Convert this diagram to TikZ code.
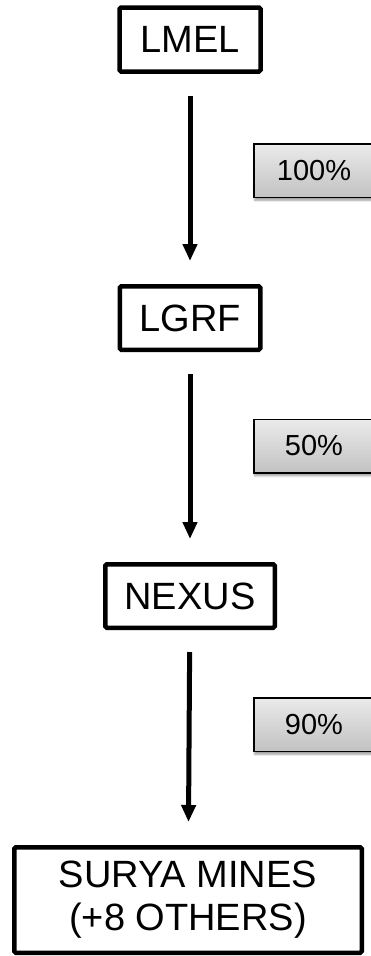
\documentclass[tikz,border=0pt]{standalone}
\usepackage{fontspec}
\setmainfont{Liberation Sans}
\usetikzlibrary{arrows.meta,shadows.blur}
\begin{document}
\begin{tikzpicture}[x=1pt,y=-1pt,
	entity/.style={draw, line width=4.5pt, rounded corners=1.5pt, inner sep=0pt, align=center, font=\fontsize{38}{43}\selectfont},
	share/.style={draw, line width=1.5pt, minimum width=120.5pt, minimum height=53.5pt, inner sep=0pt, top color=black!8, bottom color=black!24, blur shadow={shadow xshift=1pt, shadow yshift=-3pt, shadow blur steps=6}, font=\fontsize{29}{33}\selectfont},
	owns/.style={-{Triangle[width=14pt,length=17pt]}, line width=5pt, shorten <=22pt, shorten >=23pt}]
		\useasboundingbox (0,0) rectangle (370,956);
		\node[entity, minimum width=141pt, minimum height=64pt] (lmel) at (190,39.5) {LMEL};
		\node[entity, minimum width=140.5pt, minimum height=63.5pt] (lgrf) at (190,318) {LGRF};
		\node[entity, minimum width=169.5pt, minimum height=63.5pt] (nexus) at (190,596) {NEXUS};
		\node[entity, minimum width=347.5pt, minimum height=105.5pt] (surya) at (188,900) {SURYA MINES\\(+8 OTHERS)};
		\draw[owns] (lmel) -- (lgrf);
		\draw[owns] (lgrf) -- (nexus);
		\draw[owns] (nexus) -- (surya);
		\node[share] (p1) at (314,170.5) {100\%};
		\node[share] (p2) at (314,446) {50\%};
		\node[share] (p3) at (314,724.5) {90\%};
	\end{tikzpicture}
\end{document}
